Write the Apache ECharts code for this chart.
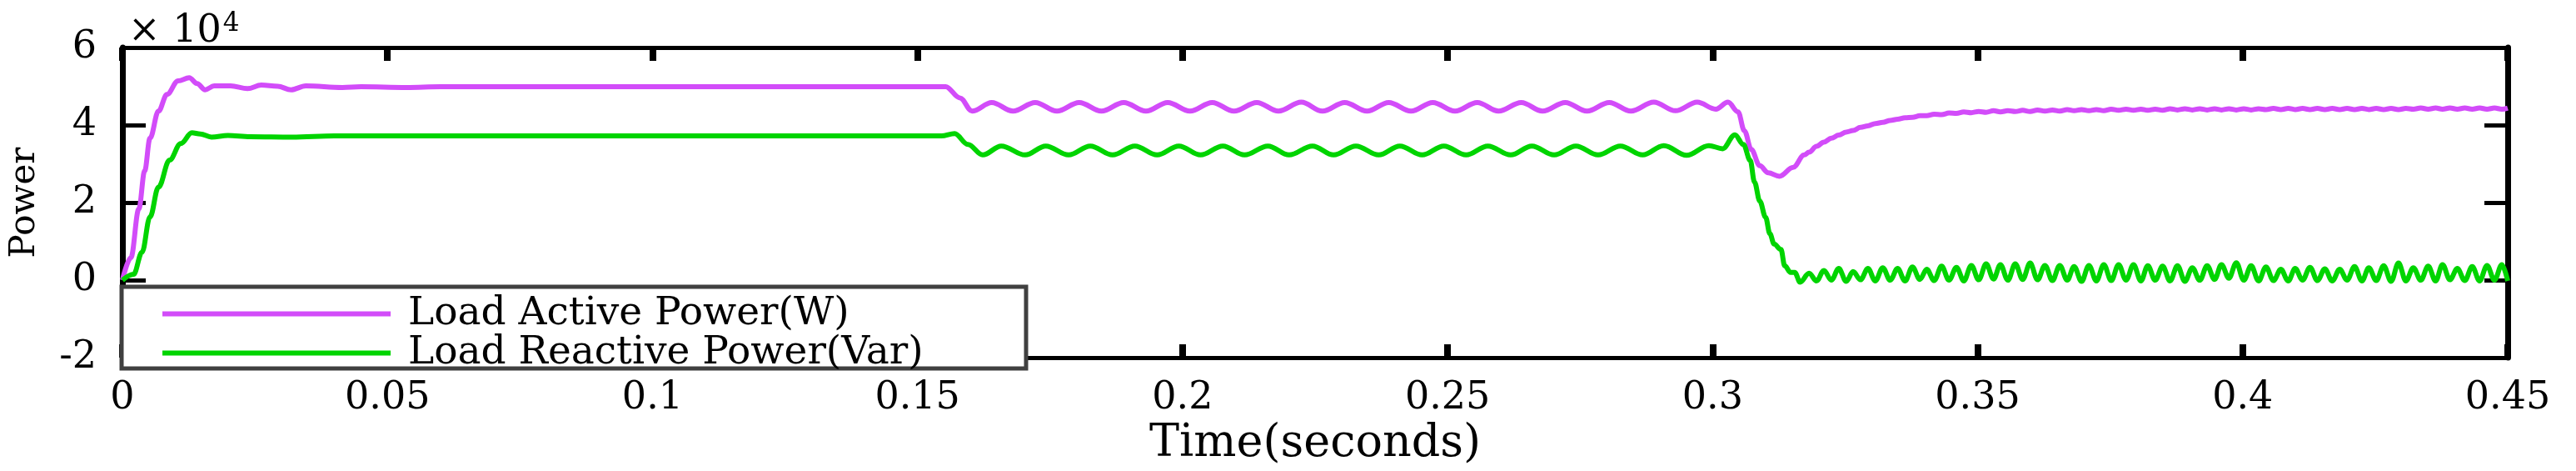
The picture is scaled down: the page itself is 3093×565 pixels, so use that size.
<!DOCTYPE html>
<html>
<head>
<meta charset="utf-8">
<title>Load Power</title>
<script src="https://cdn.jsdelivr.net/npm/echarts@6/dist/echarts.min.js"></script>
<style>
  html, body { margin: 0; padding: 0; background: #fff; }
  #chart { width: 3093px; height: 565px; }
</style>
</head>
<body>
<div id="chart"></div>
<script>
// values are in units of 1e4 (see the x10^4 mark at the top)
const legendNames = ['Load Active Power(W)', 'Load Reactive Power(Var)'];
const xTickValues = [0, 0.05, 0.1, 0.15, 0.2, 0.25, 0.3, 0.35, 0.4, 0.45];
const yTickValues = [-2, 0, 2, 4, 6];

// active power: start-up, flat part, 120 Hz swing, sag after 0.3 s
const activeHead = [
  [0, 0], [0.0016, 0.58], [0.0031, 1.84], [0.0042, 2.82], [0.0052, 3.66], [0.0068, 4.36],
  [0.0084, 4.79], [0.0105, 5.14], [0.0126, 5.22], [0.0141, 5.07], [0.0156, 4.91], [0.0173, 5.01],
  [0.0204, 5.01], [0.0236, 4.94], [0.0262, 5.03], [0.0293, 5.0], [0.0318, 4.91], [0.0346, 5.01],
  [0.0415, 4.97], [0.045, 4.99], [0.0536, 4.97], [0.06, 4.99], [0.08, 4.99], [0.1, 4.99],
  [0.12, 4.99], [0.14, 4.99], [0.1553, 4.99]
];
const activeSwing = [
  [0.1580, 4.70], [0.1603, 4.36], [0.1640, 4.58], [0.1680, 4.36], [0.1722, 4.58], [0.1763, 4.36],
  [0.1805, 4.58], [0.1847, 4.36], [0.1889, 4.58], [0.1931, 4.36], [0.1972, 4.58], [0.2014, 4.36],
  [0.2056, 4.58], [0.2097, 4.36], [0.2140, 4.58], [0.2181, 4.36], [0.2224, 4.59], [0.2264, 4.36],
  [0.2306, 4.58], [0.2348, 4.36], [0.2389, 4.58], [0.2431, 4.36], [0.2472, 4.58], [0.2514, 4.36],
  [0.2556, 4.58], [0.2596, 4.36], [0.2639, 4.58], [0.2679, 4.36], [0.2722, 4.58], [0.2763, 4.36],
  [0.2805, 4.58], [0.2846, 4.36], [0.2889, 4.59], [0.2930, 4.37], [0.2971, 4.59], [0.3006, 4.41],
  [0.3029, 4.59], [0.3048, 4.34], [0.3060, 3.85], [0.3073, 3.37], [0.3089, 2.95], [0.3105, 2.77],
  [0.3126, 2.68], [0.3152, 2.91], [0.3173, 3.23]
];

// reactive power
const reactiveHead = [
  [0, 0], [0.0021, 0.15], [0.0037, 0.72], [0.0052, 1.63], [0.0068, 2.4], [0.0089, 3.1],
  [0.011, 3.52], [0.0131, 3.8], [0.0147, 3.77], [0.0168, 3.69], [0.0199, 3.73], [0.0241, 3.7],
  [0.032, 3.69], [0.04, 3.72], [0.06, 3.72], [0.08, 3.72], [0.1, 3.72], [0.12, 3.72],
  [0.14, 3.72], [0.1545, 3.72]
];
const reactiveSwing = [
  [0.1570, 3.78], [0.1595, 3.50], [0.1623, 3.23], [0.1658, 3.46], [0.1703, 3.23], [0.1742, 3.46],
  [0.1785, 3.23], [0.1826, 3.46], [0.1868, 3.23], [0.1910, 3.46], [0.1952, 3.23], [0.1993, 3.46],
  [0.2034, 3.23], [0.2076, 3.46], [0.2117, 3.23], [0.2161, 3.46], [0.2201, 3.23], [0.2245, 3.46],
  [0.2285, 3.23], [0.2327, 3.46], [0.2370, 3.23], [0.2410, 3.46], [0.2452, 3.23], [0.2493, 3.46],
  [0.2535, 3.23], [0.2576, 3.46], [0.2619, 3.23], [0.2659, 3.46], [0.2701, 3.23], [0.2742, 3.46],
  [0.2784, 3.23], [0.2826, 3.46], [0.2868, 3.23], [0.2908, 3.47], [0.2951, 3.22], [0.2993, 3.47],
  [0.3019, 3.39], [0.3042, 3.75], [0.3058, 3.50], [0.3071, 3.09], [0.3079, 2.53], [0.3089, 2.04],
  [0.3100, 1.62], [0.3108, 1.20], [0.3116, 0.93], [0.3129, 0.79], [0.3136, 0.37], [0.3147, 0.20],
  [0.3155, 0.20], [0.3165, -0.05]
];

// tail after the sag: ripple peaks / troughs
const tailTime = [
  0.3182, 0.3196, 0.3210, 0.3224, 0.3238, 0.3252, 0.3265, 0.3279, 0.3293, 0.3307,
  0.3321, 0.3335, 0.3349, 0.3363, 0.3377, 0.3391, 0.3404, 0.3418, 0.3432, 0.3446,
  0.3460, 0.3474, 0.3488, 0.3502, 0.3516, 0.3530, 0.3543, 0.3557, 0.3571, 0.3585,
  0.3599, 0.3613, 0.3627, 0.3641, 0.3655, 0.3669, 0.3682, 0.3696, 0.3710, 0.3724,
  0.3738, 0.3752, 0.3766, 0.3780, 0.3794, 0.3808, 0.3821, 0.3835, 0.3849, 0.3863,
  0.3877, 0.3891, 0.3905, 0.3919, 0.3933, 0.3947, 0.3960, 0.3974, 0.3988, 0.4002,
  0.4016, 0.4030, 0.4044, 0.4058, 0.4072, 0.4086, 0.4099, 0.4113, 0.4127, 0.4141,
  0.4155, 0.4169, 0.4183, 0.4197, 0.4211, 0.4225, 0.4238, 0.4252, 0.4266, 0.4280,
  0.4294, 0.4308, 0.4322, 0.4336, 0.4350, 0.4364, 0.4377, 0.4391, 0.4405, 0.4419,
  0.4433, 0.4447, 0.4461, 0.4475, 0.4489, 0.4500
];
const activeTail = [
  3.30, 3.45, 3.56, 3.66, 3.74, 3.82, 3.86, 3.94, 3.98, 4.04,
  4.07, 4.12, 4.15, 4.19, 4.20, 4.24, 4.24, 4.28, 4.27, 4.31,
  4.30, 4.34, 4.32, 4.35, 4.33, 4.37, 4.34, 4.37, 4.35, 4.38,
  4.35, 4.39, 4.36, 4.39, 4.36, 4.40, 4.37, 4.40, 4.37, 4.40,
  4.37, 4.41, 4.38, 4.41, 4.38, 4.41, 4.38, 4.41, 4.38, 4.42,
  4.39, 4.42, 4.39, 4.42, 4.39, 4.42, 4.39, 4.42, 4.39, 4.42,
  4.39, 4.42, 4.40, 4.43, 4.40, 4.43, 4.40, 4.43, 4.40, 4.43,
  4.40, 4.43, 4.40, 4.43, 4.40, 4.43, 4.40, 4.43, 4.40, 4.43,
  4.40, 4.43, 4.41, 4.44, 4.41, 4.44, 4.41, 4.44, 4.41, 4.44,
  4.41, 4.44, 4.41, 4.44, 4.41, 4.44
];
const reactiveTail = [
  0.18, -0.02, 0.25, 0.00, 0.30, -0.03, 0.22, 0.01, 0.30, -0.02,
  0.32, 0.00, 0.30, -0.02, 0.34, 0.02, 0.28, -0.01, 0.36, 0.00,
  0.33, -0.02, 0.38, 0.01, 0.42, 0.03, 0.40, 0.00, 0.42, 0.02,
  0.44, 0.01, 0.38, -0.01, 0.38, 0.00, 0.35, -0.03, 0.38, -0.02,
  0.40, -0.01, 0.40, 0.00, 0.40, -0.02, 0.37, 0.00, 0.36, -0.02,
  0.37, -0.03, 0.32, 0.00, 0.37, 0.02, 0.40, 0.05, 0.45, 0.00,
  0.37, -0.02, 0.34, -0.01, 0.28, -0.02, 0.30, 0.00, 0.33, -0.01,
  0.29, -0.02, 0.28, 0.00, 0.35, -0.02, 0.32, -0.01, 0.37, -0.03,
  0.44, -0.02, 0.32, 0.00, 0.36, -0.02, 0.40, 0.01, 0.30, -0.01,
  0.35, -0.02, 0.38, 0.00, 0.40, -0.02
];

const FONT = 'DejaVu Serif';
const activeData = activeHead.concat(activeSwing, tailTime.map((t, i) => [t, activeTail[i]]));
const reactiveData = reactiveHead.concat(reactiveSwing, tailTime.map((t, i) => [t, reactiveTail[i]]));

const chart = echarts.init(document.getElementById('chart'), null, { renderer: 'canvas' });

// box axes: bottom/top and left/right, ticks pointing inward
const xBase = {
  type: 'value', min: 0, max: 0.45, interval: 0.05,
  splitLine: { show: false },
  axisLine: { show: true, onZero: false, lineStyle: { color: '#000', width: 5 } },
  axisTick: { show: true, inside: true, length: 16, lineStyle: { color: '#000', width: 8 } }
};
const yBase = {
  type: 'value', min: -2, max: 6, interval: 2,
  splitLine: { show: false },
  axisLine: { show: true, onZero: false, lineStyle: { color: '#000', width: 7 } },
  axisTick: { show: true, inside: true, length: 28, lineStyle: { color: '#000', width: 5 } }
};

const option = {
  animation: false,
  backgroundColor: '#fff',
  grid: { left: 147, right: 82, top: 57, bottom: 123, containLabel: false },
  xAxis: [
    Object.assign({}, xBase, {
      position: 'bottom',
      name: 'Time(seconds)', nameLocation: 'middle', nameGap: 55,
      nameTextStyle: { fontFamily: FONT, fontSize: 54, color: '#000' },
      axisLabel: {
        margin: 26, color: '#000', fontFamily: FONT, fontSize: 46,
        formatter: v => xTickValues.includes(+v.toFixed(2)) ? String(+v.toFixed(2)) : ''
      }
    }),
    Object.assign({}, xBase, { position: 'top', axisLabel: { show: false } })
  ],
  yAxis: [
    Object.assign({}, yBase, {
      position: 'left',
      name: 'Power', nameLocation: 'middle', nameGap: 96, nameRotate: 90,
      nameTextStyle: { fontFamily: FONT, fontSize: 42, color: '#000' },
      axisLabel: {
        margin: 31, color: '#000', fontFamily: FONT, fontSize: 46,
        formatter: v => yTickValues.includes(v) ? String(v) : ''
      }
    }),
    Object.assign({}, yBase, { position: 'right', axisLabel: { show: false } })
  ],
  legend: {
    data: legendNames,
    orient: 'vertical',
    left: 195, top: 353,
    padding: 0, itemGap: 0,
    itemWidth: 274, itemHeight: 6,
    icon: 'rect',
    z: 30,
    textStyle: { fontFamily: FONT, fontSize: 47, color: '#000', lineHeight: 41, padding: [0, 0, 0, 16] }
  },
  graphic: [
    {
      // legend frame
      type: 'rect', z: 20,
      shape: { x: 146, y: 344, width: 1086, height: 98 },
      style: { fill: '#fff', stroke: '#404040', lineWidth: 5 }
    },
    {
      type: 'text', z: 20, left: 154, top: 13,
      style: {
        text: '× 10{s|4}', fill: '#000', font: '46px "DejaVu Serif"',
        rich: { s: { fontSize: 31, fontFamily: FONT, verticalAlign: 'top', padding: [0, 0, 20, 2] } }
      }
    }
  ],
  series: [
    {
      name: legendNames[0], type: 'line', data: activeData,
      showSymbol: false, symbol: 'none', smooth: 0.36, smoothMonotone: 'x',
      lineStyle: { color: '#D24CF9', width: 6 }, itemStyle: { color: '#D24CF9' }
    },
    {
      name: legendNames[1], type: 'line', data: reactiveData,
      showSymbol: false, symbol: 'none', smooth: 0.36, smoothMonotone: 'x',
      lineStyle: { color: '#00D400', width: 6 }, itemStyle: { color: '#00D400' }
    }
  ]
};

chart.setOption(option);
window.onresize = function () {
  chart.resize();
};
</script>
</body>
</html>
